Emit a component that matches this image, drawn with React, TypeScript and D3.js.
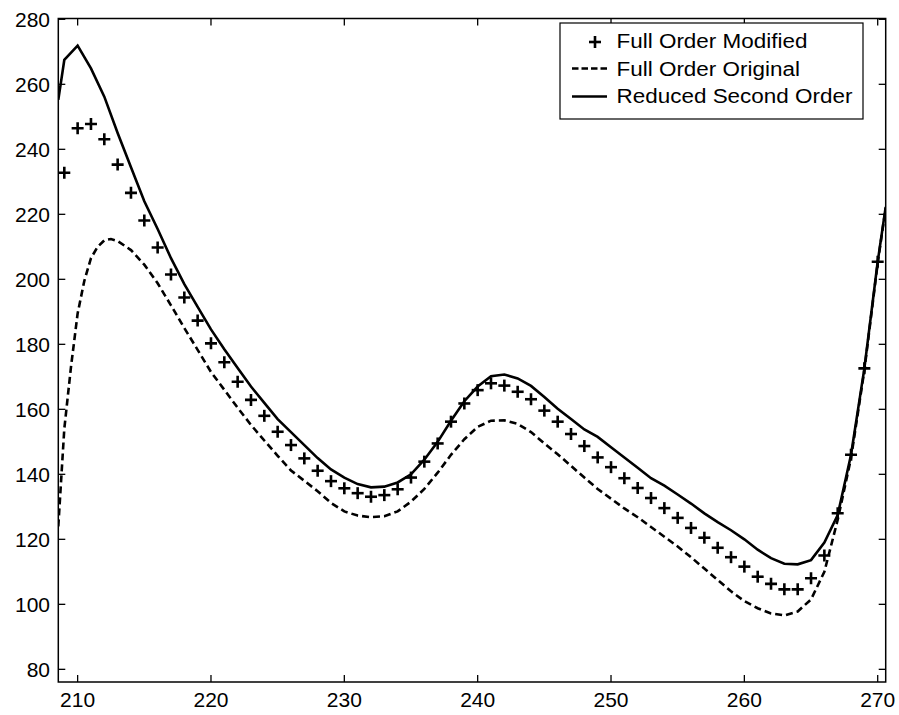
import React from "react";
import * as d3 from "d3";

const xTicks = [210, 220, 230, 240, 250, 260, 270];
const yTicks = [80, 100, 120, 140, 160, 180, 200, 220, 240, 260, 280];

const modX = [209, 210, 211, 212, 213, 214, 215, 216, 217, 218, 219, 220, 221, 222, 223, 224, 225, 226, 227, 228, 229, 230, 231, 232, 233, 234, 235, 236, 237, 238, 239, 240, 241, 242, 243, 244, 245, 246, 247, 248, 249, 250, 251, 252, 253, 254, 255, 256, 257, 258, 259, 260, 261, 262, 263, 264, 265, 266, 267, 268, 269, 270];
const modY = [232.8, 246.5, 247.8, 243.1, 235.3, 226.6, 218.1, 209.8, 201.5, 194.4, 187.3, 180.3, 174.5, 168.5, 162.9, 158.0, 153.1, 149.0, 144.9, 141.1, 137.9, 135.7, 134.2, 133.1, 133.6, 135.4, 139.0, 143.9, 149.5, 156.2, 161.8, 165.9, 168.0, 167.3, 165.4, 163.1, 159.6, 156.2, 152.4, 148.7, 145.2, 142.2, 138.8, 135.8, 132.7, 129.6, 126.6, 123.5, 120.5, 117.4, 114.5, 111.6, 108.5, 106.3, 104.6, 104.6, 108, 115, 128, 146, 172.6, 205.4];

const redX = [208.55, 209, 210, 211, 212, 213, 214, 215, 216, 217, 218, 219, 220, 221, 222, 223, 224, 225, 226, 227, 228, 229, 230, 231, 232, 233, 234, 235, 236, 237, 238, 239, 240, 241, 242, 243, 244, 245, 246, 247, 248, 249, 250, 251, 252, 253, 254, 255, 256, 257, 258, 259, 260, 261, 262, 263, 264, 265, 266, 267, 268, 269, 270, 270.6];
const redY = [255.2, 267.5, 271.9, 264.9, 256.2, 245, 234.5, 224, 215.5, 206.5, 198.5, 191.5, 184.6, 178.5, 172.7, 167, 162, 157, 153, 149, 145, 141.5, 139, 137, 136, 136.2, 137.5, 140, 144.5, 150, 156.5, 162.5, 167, 170.2, 170.7, 169.5, 167.2, 163.8, 160.2, 157, 153.8, 151.5, 148.3, 145.2, 142, 138.8, 136.5, 133.8, 131, 128, 125.3, 122.8, 120, 116.8, 114.2, 112.5, 112.3, 113.6, 119, 127.5, 146, 172.6, 205.4, 222.3];

const origX = [208.55, 209, 209.5, 210, 210.5, 211, 211.5, 212, 212.5, 213, 214, 215, 216, 217, 218, 219, 220, 221, 222, 223, 224, 225, 226, 227, 228, 229, 230, 231, 232, 233, 234, 235, 236, 237, 238, 239, 240, 241, 242, 243, 244, 245, 246, 247, 248, 249, 250, 251, 252, 253, 254, 255, 256, 257, 258, 259, 260, 261, 262, 263, 264, 265, 266, 267, 268, 269, 270, 270.6];
const origY = [124, 154, 173, 189.5, 199.5, 206.5, 210, 212, 212.4, 211.8, 209.0, 204.5, 198.8, 192, 185, 178.3, 171.5, 166, 160.5, 155.2, 150.4, 145.7, 141.2, 138, 134.8, 131.2, 128.6, 127.3, 126.8, 127.1, 128.6, 131.6, 135.5, 140.5, 146, 150.8, 154.6, 156.5, 156.6, 155.5, 153, 149.5, 146.2, 142.6, 139, 135.5, 132.5, 129.5, 126.8, 123.8, 120.8, 117.8, 114.5, 111, 107.5, 104, 101, 98.8, 97.2, 96.6, 97.8, 101.5, 110, 126, 145, 172, 205, 222];

const legendLabels = ["Full Order Modified", "Full Order Original", "Reduced Second Order"];

const W = 899;
const H = 715;
const L = 58.3, R = 885.7, T = 18.5, B = 682;
const FONT = "'Liberation Sans', Arial, Helvetica, sans-serif";

export default function App() {
  const x = d3.scaleLinear().domain([208.55, 270.6]).range([L, R]);
  const y = d3.scaleLinear().domain([76.1, 280.25]).range([B, T]);

  const line = d3
    .line<[number, number]>()
    .x((d) => x(d[0]))
    .y((d) => y(d[1]))
    .curve(d3.curveLinear);

  const redPts = redX.map((v, i) => [v, redY[i]] as [number, number]);
  const origPts = origX.map((v, i) => [v, origY[i]] as [number, number]);
  const modPts = modX.map((v, i) => [v, modY[i]] as [number, number]);

  const tickLen = 7;
  const ms = 6;
  const sw = 2.6;

  return (
    <svg
      width={W}
      height={H}
      style={{ position: "absolute", left: 0, top: 0, background: "#fff" }}
      fontFamily={FONT}
    >
      <rect x={0} y={0} width={W} height={H} fill="#fff" />
      <defs>
        <clipPath id="plotclip">
          <rect x={L} y={T} width={R - L} height={B - T} />
        </clipPath>
      </defs>

      {/* axis box */}
      <rect x={L} y={T} width={R - L} height={B - T} fill="none" stroke="#000" strokeWidth={1.5} />

      {/* x ticks */}
      {xTicks.map((t) => (
        <g key={"xt" + t}>
          <line x1={x(t)} x2={x(t)} y1={B} y2={B - tickLen} stroke="#000" strokeWidth={1.3} />
          <line x1={x(t)} x2={x(t)} y1={T} y2={T + tickLen} stroke="#000" strokeWidth={1.3} />
          <text x={x(t)} y={707} textAnchor="middle" fontSize={21} fill="#000">
            {t}
          </text>
        </g>
      ))}

      {/* y ticks */}
      {yTicks.map((t) => (
        <g key={"yt" + t}>
          <line x1={L} x2={L + tickLen} y1={y(t)} y2={y(t)} stroke="#000" strokeWidth={1.3} />
          <line x1={R} x2={R - tickLen} y1={y(t)} y2={y(t)} stroke="#000" strokeWidth={1.3} />
          <text x={50} y={y(t)} dy="0.36em" textAnchor="end" fontSize={21} fill="#000">
            {t}
          </text>
        </g>
      ))}

      <g clipPath="url(#plotclip)">
        <path d={line(origPts) || ""} fill="none" stroke="#000" strokeWidth={sw} strokeDasharray="7,4" />
        <path d={line(redPts) || ""} fill="none" stroke="#000" strokeWidth={sw} strokeLinejoin="miter" />
        {modPts.map((p, i) => (
          <g key={"m" + i} stroke="#000" strokeWidth={sw}>
            <line x1={x(p[0]) - ms} x2={x(p[0]) + ms} y1={y(p[1])} y2={y(p[1])} />
            <line x1={x(p[0])} x2={x(p[0])} y1={y(p[1]) - ms} y2={y(p[1]) + ms} />
          </g>
        ))}
      </g>

      {/* legend */}
      <g>
        <rect x={560} y={23} width={303} height={96} fill="#fff" stroke="#000" strokeWidth={1.2} />
        <g stroke="#000" strokeWidth={sw}>
          <line x1={595 - ms} x2={595 + ms} y1={42} y2={42} />
          <line x1={595} x2={595} y1={42 - ms} y2={42 + ms} />
        </g>
        <line x1={572} x2={607} y1={68.5} y2={68.5} stroke="#000" strokeWidth={sw} strokeDasharray="6.5,3" />
        <line x1={572} x2={607} y1={96.5} y2={96.5} stroke="#000" strokeWidth={sw} />
        <g transform="translate(616.5,0) scale(1.07,1)">
          {legendLabels.map((s, i) => (
            <text key={s} x={0} y={48.5 + i * 27.2} fontSize={21} fill="#000">
              {s}
            </text>
          ))}
        </g>
      </g>
    </svg>
  );
}
